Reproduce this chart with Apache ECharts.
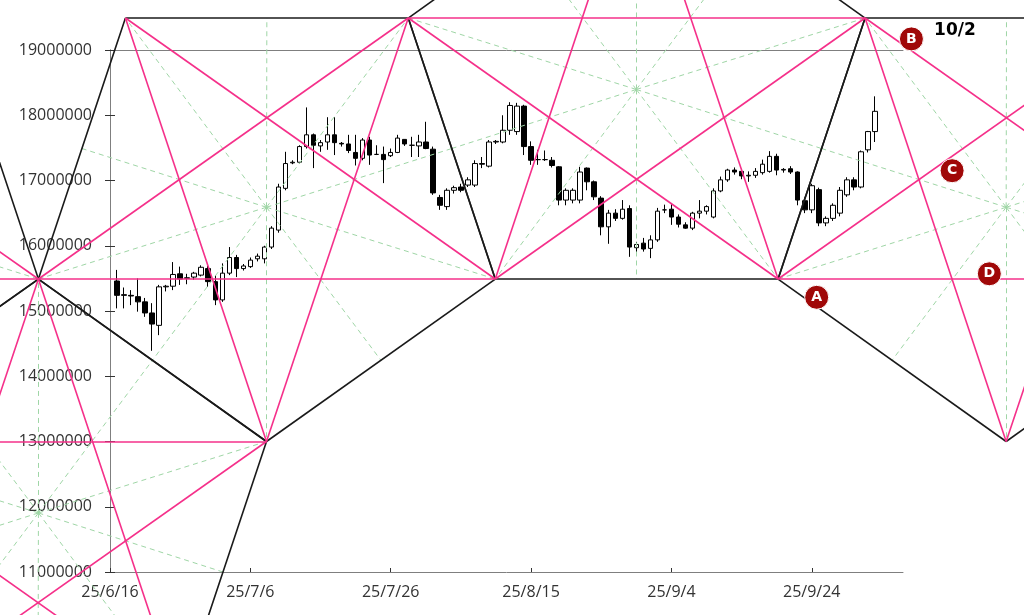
<!DOCTYPE html>
<html><head><meta charset="utf-8">
<script src="https://cdn.jsdelivr.net/npm/echarts@6/dist/echarts.min.js"></script>
<style>html,body{margin:0;padding:0;background:#fff}#c{width:1024px;height:615px}</style>
</head><body><div id="c"></div>
<script>
// ---------- x axis origin (day 0 = 2025/6/16) ----------
const axisStartDate = '6/16';
const axisEndDay = 113;
const tickStepDays = 20;

// ---------- daily candles (BTC/JPY) ----------
const dates = ['6/17','6/18','6/19','6/20','6/21','6/22','6/23','6/24','6/25','6/26','6/27','6/28','6/29','6/30',
'7/1','7/2','7/3','7/4','7/5','7/6','7/7','7/8','7/9','7/10','7/11','7/12','7/13','7/14','7/15','7/16','7/17','7/18','7/19','7/20','7/21','7/22','7/23','7/24','7/25','7/26','7/27','7/28','7/29','7/30','7/31',
'8/1','8/2','8/3','8/4','8/5','8/6','8/7','8/8','8/9','8/10','8/11','8/12','8/13','8/14','8/15','8/16','8/17','8/18','8/19','8/20','8/21','8/22','8/23','8/24','8/25','8/26','8/27','8/28','8/29','8/30','8/31',
'9/1','9/2','9/3','9/4','9/5','9/6','9/7','9/8','9/9','9/10','9/11','9/12','9/13','9/14','9/15','9/16','9/17','9/18','9/19','9/20','9/21','9/22','9/23','9/24','9/25','9/26','9/27','9/28','9/29','9/30',
'10/1','10/2','10/3'];
const open = [15460000,15250000,15240000,15220000,15140000,14970000,14780000,15370000,15380000,15570000,15500000,15520000,15550000,15650000,
15450000,15170000,15580000,15820000,15650000,15680000,15800000,15800000,15980000,16240000,16880000,17270000,17280000,17520000,17700000,17530000,17590000,17700000,17570000,17560000,17430000,17340000,17620000,17400000,17400000,17380000,17430000,17630000,17540000,17530000,17590000,
17480000,16740000,16600000,16850000,16900000,16930000,16930000,17260000,17220000,17590000,17590000,17770000,17750000,18140000,17520000,17320000,17320000,17310000,17210000,16700000,16700000,16700000,17190000,16980000,16730000,16290000,16500000,16420000,16570000,15970000,16040000,
15960000,16090000,16550000,16560000,16440000,16320000,16270000,16500000,16530000,16440000,16840000,17010000,17160000,17140000,17070000,17080000,17120000,17140000,17370000,17160000,17180000,17130000,16690000,16550000,16860000,16350000,16420000,16500000,16780000,17010000,
16900000,17470000,17750000];
const high = [15630000,15360000,15320000,15500000,15200000,15120000,15400000,15400000,15750000,15680000,15570000,15600000,15700000,15690000,
15550000,15730000,15980000,15860000,15720000,15820000,15880000,16000000,16300000,16950000,17440000,17310000,17540000,18120000,17720000,17620000,17970000,17970000,17590000,17700000,17700000,17650000,17670000,17540000,17520000,17490000,17700000,17630000,17670000,17700000,17900000,
17520000,16780000,16880000,16920000,16950000,17050000,17310000,17360000,17620000,17620000,18000000,18200000,18190000,18160000,17600000,17470000,17460000,17360000,17220000,16880000,16880000,17210000,17200000,17000000,16760000,16550000,16560000,16700000,16620000,16060000,16120000,
16160000,16580000,16630000,16640000,16480000,16360000,16520000,16700000,16620000,16880000,17060000,17180000,17200000,17180000,17140000,17190000,17320000,17450000,17410000,17190000,17220000,17140000,16740000,16950000,16890000,16450000,16650000,16900000,17050000,17050000,
17460000,17760000,18290000];
const low = [15040000,15040000,15090000,14990000,14910000,14390000,14630000,15300000,15320000,15400000,15410000,15480000,15530000,15370000,
15090000,15140000,15550000,15520000,15620000,15660000,15760000,15730000,15950000,16200000,16850000,17250000,17260000,17490000,17190000,17440000,17470000,17390000,17520000,17420000,17230000,17310000,17240000,17390000,16960000,17360000,17420000,17530000,17360000,17360000,17480000,
16780000,16550000,16550000,16800000,16820000,16900000,16900000,17190000,17200000,17560000,17570000,17700000,17700000,17390000,17240000,17240000,17300000,17200000,16620000,16620000,16650000,16650000,16850000,16700000,16160000,16030000,16380000,16400000,15830000,15900000,15910000,
15810000,16060000,16500000,16320000,16280000,16260000,16240000,16420000,16480000,16420000,16820000,16980000,17090000,17020000,16980000,17040000,17090000,17120000,17080000,17120000,17100000,16620000,16500000,16500000,16300000,16300000,16380000,16450000,16750000,16850000,
16880000,17430000,17590000];
const close = [15240000,15240000,15230000,15140000,14970000,14800000,15370000,15380000,15560000,15490000,15510000,15580000,15670000,15450000,
15170000,15580000,15820000,15650000,15690000,15780000,15840000,15980000,16270000,16900000,17260000,17280000,17520000,17700000,17540000,17580000,17700000,17580000,17560000,17460000,17340000,17620000,17390000,17400000,17320000,17430000,17650000,17560000,17540000,17590000,17490000,
16810000,16620000,16850000,16890000,16850000,17010000,17260000,17250000,17590000,17600000,17770000,18150000,18140000,17520000,17310000,17320000,17320000,17230000,16700000,16850000,16850000,17130000,16980000,16750000,16290000,16500000,16420000,16560000,15980000,16020000,15950000,
16090000,16530000,16550000,16440000,16330000,16270000,16500000,16530000,16600000,16840000,17010000,17160000,17130000,17070000,17080000,17140000,17250000,17370000,17160000,17170000,17130000,16700000,16550000,16920000,16350000,16420000,16620000,16850000,17010000,16900000,
17440000,17750000,18060000];

// ---------- y axis ----------
const yMin = 11000000, yMax = 19000000, yStep = 1000000;

// ---------- pentagon overlay (x in days from 6/16, y in JPY) ----------
const levelApex = 21980000, levelTop = 19490000, levelMid = 15490000, levelLow = 13000000, levelBase = 9000000;
const pentagonLeft   = [[-62.9, levelTop], [-22.6, levelTop], [-10.2, levelMid], [-42.8, levelLow], [-75.3, levelMid]];
const pentagonFirst  = [[2.2, levelTop], [42.5, levelTop], [54.9, levelMid], [22.3, levelLow], [-10.2, levelMid]];
const pentagonSecond = [[54.9, levelMid], [95.2, levelMid], [107.6, levelTop], [75.0, levelApex], [42.5, levelTop]];
const pentagonThird  = [[107.6, levelTop], [147.9, levelTop], [160.3, levelMid], [127.7, levelLow], [95.2, levelMid]];
const pentagonLower  = [[-10.2, levelMid], [22.3, levelLow], [9.9, levelBase], [-30.4, levelBase], [-42.8, levelLow]];
const pentagons = [pentagonLeft, pentagonFirst, pentagonSecond, pentagonThird, pentagonLower];
const pentagonCenters = [[-42.8, 16590000], [22.3, 16590000], [75.0, 18395000], [127.7, 16590000], [-10.2, 11905000]];

// ---------- annotations ----------
const markerLetters = ['A', 'B', 'C', 'D'];
const markerPoints = [[100.7, 15210000], [114.2, 19170000], [120.0, 17150000], [125.3, 15570000]];
const dateNote = '10/2';
const dateNotePoint = [120.4, 19290000];

// ---------- build ----------
const DAY = 86400000;
function mdToUTC(md) { const p = md.split('/').map(Number); return Date.UTC(2025, p[0] - 1, p[1]); }
const origin = mdToUTC(axisStartDate);
const dayOf = md => Math.round((mdToUTC(md) - origin) / DAY);
const candleData = dates.map((d, i) => [dayOf(d), open[i], close[i], low[i], high[i]]);

const edgeLines = [], diagLines = [], rayLines = [];
pentagons.forEach((P, k) => {
  const c = pentagonCenters[k];
  for (let i = 0; i < 5; i++) {
    const a = P[i], b = P[(i + 1) % 5], d = P[(i + 2) % 5];
    edgeLines.push({coords: [a, b]});
    diagLines.push({coords: [a, d]});
    rayLines.push({coords: [c, a]});
    rayLines.push({coords: [c, [(a[0] + b[0]) / 2, (a[1] + b[1]) / 2]]});
  }
});

const axisColor = '#7f7f7f';
const labelFont = {fontFamily: 'Open Sans', fontSize: 16, color: '#333'};

const chart = echarts.init(document.getElementById('c'));
chart.setOption({
  animation: false,
  backgroundColor: '#fff',
  grid: {left: 110, right: 121, top: 50, bottom: 43, containLabel: false},
  xAxis: [{
    type: 'value', min: 0, max: axisEndDay, interval: tickStepDays, position: 'bottom',
    axisLine: {show: true, lineStyle: {color: axisColor, width: 1}},
    axisTick: {show: true, inside: true, length: 4, lineStyle: {color: '#333'}},
    splitLine: {show: false},
    axisLabel: Object.assign({margin: 12, showMaxLabel: false, formatter: v => {
      if (v % tickStepDays !== 0) return '';
      const t = new Date(origin + v * DAY);
      return '25/' + (t.getUTCMonth() + 1) + '/' + t.getUTCDate();
    }}, labelFont)
  }, {
    type: 'value', min: 0, max: axisEndDay, position: 'top',
    axisLine: {show: true, lineStyle: {color: axisColor, width: 1}},
    axisTick: {show: false}, axisLabel: {show: false}, splitLine: {show: false}
  }],
  yAxis: [{
    type: 'value', min: yMin, max: yMax, interval: yStep, position: 'left',
    axisLine: {show: true, lineStyle: {color: axisColor, width: 1}},
    axisTick: {show: true, inside: true, length: 5, lineStyle: {color: '#333'}},
    splitLine: {show: false},
    axisLabel: Object.assign({margin: 18, formatter: v => String(v)}, labelFont)
  }, {
    type: 'value', min: yMin, max: yMax, interval: yStep, position: 'right',
    axisLine: {show: true, lineStyle: {color: axisColor, width: 1}},
    axisTick: {show: true, inside: true, length: 5, lineStyle: {color: '#333'}},
    axisLabel: {show: false}, splitLine: {show: false}
  }],
  series: [
    {
      type: 'candlestick', data: candleData, barWidth: 5, z: 2,
      itemStyle: {color: '#fff', color0: '#000', borderColor: '#000', borderColor0: '#000', borderWidth: 1}
    },
    {
      type: 'lines', coordinateSystem: 'cartesian2d', clip: false, silent: true, z: 3,
      lineStyle: {color: '#9fd6a6', width: 1, type: [5, 4], opacity: 1, curveness: 0},
      data: rayLines
    },
    {
      type: 'lines', coordinateSystem: 'cartesian2d', clip: false, silent: true, z: 4,
      lineStyle: {color: '#1a1a1a', width: 1.6, opacity: 1, curveness: 0},
      data: edgeLines
    },
    {
      type: 'lines', coordinateSystem: 'cartesian2d', clip: false, silent: true, z: 5,
      lineStyle: {color: '#f5308a', width: 1.6, opacity: 1, curveness: 0},
      data: diagLines
    },
    {
      type: 'scatter', clip: false, silent: true, z: 6, symbol: 'circle', symbolSize: 24,
      itemStyle: {color: '#a00808', borderColor: '#fff', borderWidth: 1, opacity: 1},
      label: {show: true, position: 'inside', formatter: p => markerLetters[p.dataIndex],
        color: '#fff', fontFamily: 'DejaVu Sans', fontWeight: 'bold', fontSize: 14},
      data: markerPoints
    },
    {
      type: 'scatter', clip: false, silent: true, z: 6, symbolSize: 2,
      itemStyle: {color: 'rgba(0,0,0,0)', opacity: 1},
      label: {show: true, position: 'inside', formatter: () => dateNote,
        color: '#000', fontFamily: 'DejaVu Sans', fontWeight: 'bold', fontSize: 17},
      data: [dateNotePoint]
    }
  ]
});
</script>
</body></html>
